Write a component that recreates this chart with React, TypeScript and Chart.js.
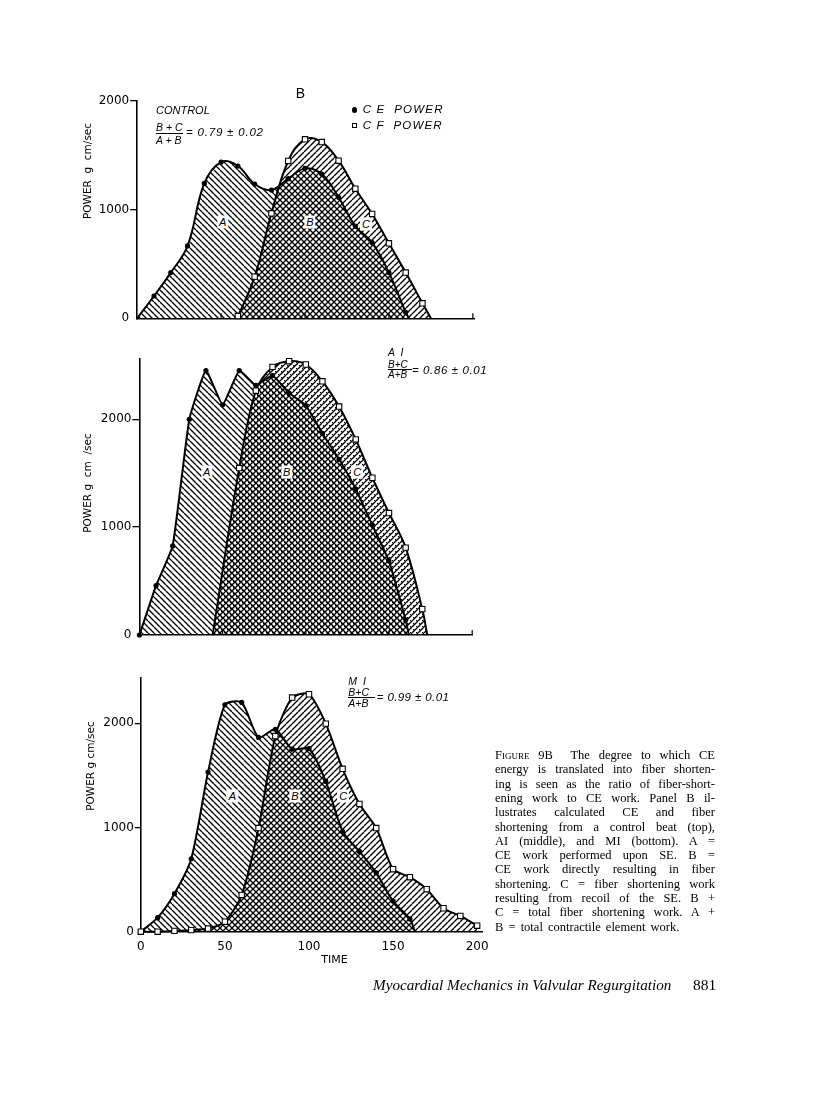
import React, { useEffect, useRef } from "react";
import { Chart, registerables } from "chart.js";
Chart.register(...registerables);

const SANS = '"DejaVu Sans", sans-serif';
const ISANS = '"Liberation Sans", Arial, sans-serif';
const SERIF = '"Liberation Serif", "Times New Roman", serif';

// ---------------- data (time in msec, power in g cm/sec) ----------------
// Control
const TOP_CE_TIME = [0, 10, 20, 30, 40, 50, 60, 70, 80, 90, 100, 110, 120, 130, 140, 150, 160, 162];
const TOP_CE_POWER = [0, 205, 420, 665, 1240, 1436, 1400, 1234, 1179, 1283, 1378, 1326, 1112, 848, 695, 420, 55, 0];
const TOP_CE_UNMARKED = [0, 162];
const TOP_CF_TIME = [58, 60, 70, 80, 90, 100, 110, 120, 130, 140, 150, 160, 170, 175];
const TOP_CF_POWER = [0, 21, 383, 965, 1446, 1645, 1620, 1449, 1191, 959, 689, 420, 138, 0];
const TOP_CF_UNMARKED = [58, 175];

// AI
const MID_CE_TIME = [0, 10, 20, 30, 40, 50, 60, 70, 80, 90, 100, 110, 120, 130, 140, 150, 160, 162];
const MID_CE_POWER = [0, 458, 826, 2000, 2452, 2134, 2452, 2315, 2405, 2243, 2128, 1869, 1629, 1355, 1019, 685, 140, 0];
const MID_CE_UNMARKED = [162];
const MID_CF_TIME = [44, 60, 70, 80, 90, 100, 110, 120, 130, 140, 150, 160, 170, 173];
const MID_CF_POWER = [0, 1548, 2265, 2486, 2539, 2508, 2352, 2118, 1813, 1458, 1131, 810, 240, 0];
const MID_CF_UNMARKED = [44, 173];

// MI
const BOT_CE_TIME = [0, 10, 20, 30, 40, 50, 60, 70, 80, 90, 100, 110, 120, 130, 140, 150, 160, 163];
const BOT_CE_POWER = [0, 135, 365, 700, 1532, 2177, 2200, 1865, 1942, 1752, 1758, 1442, 963, 770, 565, 294, 123, 0];
const BOT_CE_UNMARKED = [163];
const BOT_CF_TIME = [0, 10, 20, 30, 40, 50, 60, 70, 80, 90, 100, 110, 120, 130, 140, 150, 160, 170, 180, 190, 200];
const BOT_CF_POWER = [0, 0, 8, 15, 30, 96, 353, 995, 1878, 2247, 2279, 1997, 1563, 1226, 995, 600, 523, 408, 225, 151, 58];
const BOT_CF_UNMARKED: number[] = [];

const X_TICKS = [0, 50, 100, 150, 200];
const Y_TICKS = [0, 1000, 2000];

type Series = { t: number[]; p: number[]; unmarked: number[]; tension: number; pattern: string; kind: "ce" | "cf" };
type Panel = {
  L: number; R: number; T: number; B: number;
  xMax: number; yMax: number;
  series: Series[];
  xLabels: boolean; innerTicks: boolean; yTickLen: number;
};

const TOP_PANEL: Panel = {
  L: 137.2, R: 474.5, T: 100.7, B: 318.3, xMax: 201, yMax: 2000,
  xLabels: false, innerTicks: true, yTickLen: 7,
  series: [
    { t: TOP_CE_TIME, p: TOP_CE_POWER, unmarked: TOP_CE_UNMARKED, tension: 0.4, pattern: "back", kind: "ce" },
    { t: TOP_CF_TIME, p: TOP_CF_POWER, unmarked: TOP_CF_UNMARKED, tension: 0.4, pattern: "fwd", kind: "cf" },
  ],
};
const MID_PANEL: Panel = {
  L: 139.4, R: 472.2, T: 359, B: 635, xMax: 200, yMax: 2559,
  xLabels: false, innerTicks: true, yTickLen: 7,
  series: [
    { t: MID_CE_TIME, p: MID_CE_POWER, unmarked: MID_CE_UNMARKED, tension: 0.12, pattern: "back", kind: "ce" },
    { t: MID_CF_TIME, p: MID_CF_POWER, unmarked: MID_CF_UNMARKED, tension: 0.35, pattern: "fwd dots", kind: "cf" },
  ],
};
const BOT_PANEL: Panel = {
  L: 140.8, R: 482.2, T: 678.3, B: 931.7, xMax: 203, yMax: 2432,
  xLabels: true, innerTicks: false, yTickLen: 6,
  series: [
    { t: BOT_CE_TIME, p: BOT_CE_POWER, unmarked: BOT_CE_UNMARKED, tension: 0.25, pattern: "back", kind: "ce" },
    { t: BOT_CF_TIME, p: BOT_CF_POWER, unmarked: BOT_CF_UNMARKED, tension: 0.25, pattern: "fwd", kind: "cf" },
  ],
};

function makePattern(ctx: CanvasRenderingContext2D, kind: string): CanvasPattern | string {
  const s = 6;
  const c = document.createElement("canvas");
  c.width = s;
  c.height = s;
  const g = c.getContext("2d")!;
  g.strokeStyle = "#000";
  g.lineWidth = 1.35;
  if (kind.includes("back")) {
    g.beginPath();
    for (const k of [-1, 0, 1]) {
      g.moveTo(k * s, 0);
      g.lineTo(k * s + s, s);
    }
    g.stroke();
  }
  if (kind.includes("fwd")) {
    g.beginPath();
    for (const k of [-1, 0, 1]) {
      g.moveTo(k * s, s);
      g.lineTo(k * s + s, 0);
    }
    g.stroke();
  }
  if (kind.includes("dots")) {
    g.fillStyle = "#000";
    g.fillRect(1, 2, 1.4, 1.4);
    g.fillRect(4, 5, 1.4, 1.4);
  }
  return ctx.createPattern(c, "repeat") || "rgba(0,0,0,0)";
}

const innerTicksPlugin = {
  id: "innerTicks",
  afterDraw(chart: any, _a: any, opts: any) {
    if (!opts || !opts.show) return;
    const { ctx, chartArea, scales } = chart;
    ctx.save();
    ctx.strokeStyle = "#000";
    ctx.lineWidth = 1.2;
    for (const v of X_TICKS) {
      if (v === 0) continue;
      const px = scales.x.getPixelForValue(v);
      ctx.beginPath();
      ctx.moveTo(px, chartArea.bottom);
      ctx.lineTo(px, chartArea.bottom - 5);
      ctx.stroke();
    }
    ctx.restore();
  },
};

function PanelChart({ panel }: { panel: Panel }) {
  const ref = useRef<HTMLCanvasElement>(null);
  const CL = 40;
  const CW = 460;
  const CT = Math.floor(panel.T) - 20;
  const xH = panel.xLabels ? 30 : 2;
  const CH = Math.ceil(panel.B) + (panel.xLabels ? 42 : 14) - CT;
  const yW = panel.L - CL;
  const padTop = panel.T - CT;
  const padRight = CL + CW - panel.R;
  const padBottom = CT + CH - panel.B - xH;

  useEffect(() => {
    const canvas = ref.current!;
    const ctx = canvas.getContext("2d")!;
    const datasets = panel.series.map((s) => ({
      data: s.t.map((x, i) => ({ x, y: s.p[i] })),
      borderColor: "#000",
      borderWidth: 2,
      backgroundColor: makePattern(ctx, s.pattern),
      fill: "origin",
      tension: s.tension,
      clip: 6,
      pointStyle: s.kind === "ce" ? "circle" : "rect",
      pointRadius: s.t.map((x) => (s.unmarked.includes(x) ? 0 : s.kind === "ce" ? 2.6 : 3.8)),
      pointBackgroundColor: s.kind === "ce" ? "#000" : "#fff",
      pointBorderColor: "#000",
      pointBorderWidth: s.kind === "ce" ? 0 : 1.1,
      order: s.kind === "ce" ? 1 : 0,
    }));
    const chart = new Chart(canvas, {
      type: "line",
      data: { datasets } as any,
      plugins: [innerTicksPlugin as any],
      options: {
        responsive: false,
        animation: false,
        devicePixelRatio: 1,
        layout: { padding: { left: 0, top: padTop, right: padRight, bottom: padBottom } },
        plugins: {
          legend: { display: false },
          tooltip: { enabled: false },
          filler: { drawTime: "beforeDatasetsDraw" },
          innerTicks: { show: panel.innerTicks },
        } as any,
        scales: {
          x: {
            type: "linear",
            min: 0,
            max: panel.xMax,
            grid: { display: false, drawTicks: false },
            border: { display: true, color: "#000", width: 1.6 },
            ticks: {
              display: panel.xLabels,
              font: { family: SANS, size: 12 },
              color: "#000",
              padding: 8,
              maxRotation: 0,
              autoSkip: false,
              callback: (v: any) => String(v),
            },
            afterBuildTicks: (s: any) => {
              s.ticks = X_TICKS.map((v) => ({ value: v }));
            },
            afterFit: (s: any) => {
              s.height = xH;
            },
          },
          y: {
            type: "linear",
            min: 0,
            max: panel.yMax,
            grid: {
              display: true,
              drawOnChartArea: false,
              drawTicks: true,
              tickLength: panel.yTickLen,
              color: (c: any) => (c.tick && c.tick.value === 0 ? "rgba(0,0,0,0)" : "#000"),
              lineWidth: 1.3,
            },
            border: { display: true, color: "#000", width: 1.6 },
            ticks: {
              font: { family: SANS, size: 12 },
              color: "#000",
              padding: 1,
              callback: (v: any) => String(v),
            },
            afterBuildTicks: (s: any) => {
              s.ticks = Y_TICKS.map((v) => ({ value: v }));
            },
            afterFit: (s: any) => {
              s.width = yW;
            },
          },
        },
      } as any,
    });
    return () => chart.destroy();
  }, []);

  return (
    <canvas
      ref={ref}
      width={CW}
      height={CH}
      style={{ position: "absolute", left: CL, top: CT, width: CW, height: CH }}
    />
  );
}

type TxProps = {
  x: number; y: number; s: number; f?: string; it?: boolean; w?: number;
  a?: "l" | "c" | "r"; ls?: number; bg?: boolean; rot?: boolean; children: React.ReactNode;
};
function Tx({ x, y, s, f = ISANS, it = false, w = 400, a = "l", ls = 0, bg = false, rot = false, children }: TxProps) {
  const tx = a === "c" ? "-50%" : a === "r" ? "-100%" : "0";
  return (
    <div
      style={{
        position: "absolute",
        left: x,
        top: y,
        transform: rot ? "translate(-50%, -50%) rotate(-90deg)" : `translate(${tx}, -50%)`,
        fontFamily: f,
        fontSize: s,
        fontStyle: it ? "italic" : "normal",
        fontWeight: w,
        letterSpacing: ls,
        lineHeight: 1,
        whiteSpace: "pre",
        color: "#000",
        background: bg ? "#fff" : undefined,
        padding: bg ? "1px 2px" : undefined,
      }}
    >
      {children}
    </div>
  );
}

function Bar({ x, y, w }: { x: number; y: number; w: number }) {
  return <div style={{ position: "absolute", left: x, top: y - 0.6, width: w, height: 1.2, background: "#000" }} />;
}

const CAPTION_LINES = [
  "energy is translated into fiber shorten-",
  "ing is seen as the ratio of fiber-short-",
  "ening work to CE work. Panel B il-",
  "lustrates calculated CE and fiber",
  "shortening from a control beat (top),",
  "AI (middle), and MI (bottom). A =",
  "CE work performed upon SE. B =",
  "CE work directly resulting in fiber",
  "shortening. C = fiber shortening work",
  "resulting from recoil of the SE. B +",
  "C = total fiber shortening work. A +",
  "B = total contractile element work.",
];

function Caption() {
  const left = 495;
  const width = 220;
  const y0 = 755;
  const dy = 14.3;
  const lineStyle = (i: number, last: boolean): React.CSSProperties => ({
    position: "absolute",
    left,
    top: y0 + dy * i - 8,
    width,
    height: 16,
    lineHeight: "16px",
    fontFamily: SERIF,
    fontSize: 12.5,
    color: "#000",
    textAlign: last ? "left" : "justify",
    textAlignLast: last ? "left" : "justify",
    wordSpacing: last ? 2 : 0,
  });
  return (
    <>
      <div style={lineStyle(0, false)}>
        <span style={{ fontVariant: "small-caps" }}>Figure</span> 9B&nbsp; The degree to which CE
      </div>
      {CAPTION_LINES.map((l, i) => (
        <div key={i} style={lineStyle(i + 1, i === CAPTION_LINES.length - 1)}>
          {l}
        </div>
      ))}
    </>
  );
}

export default function App() {
  return (
    <div style={{ position: "absolute", left: 0, top: 0, width: 816, height: 1100, background: "#fff", overflow: "hidden" }}>
      <PanelChart panel={TOP_PANEL} />
      <PanelChart panel={MID_PANEL} />
      <PanelChart panel={BOT_PANEL} />

      {/* panel letter & legend */}
      <Tx x={300.5} y={93} s={14} a="c">B</Tx>
      <div style={{ position: "absolute", left: 354.3 - 2.8, top: 110 - 2.8, width: 5.6, height: 5.6, borderRadius: "50%", background: "#000" }} />
      <Tx x={362.7} y={110} s={11.5} it ls={1.2}>{"C E  POWER"}</Tx>
      <div style={{ position: "absolute", left: 354.3 - 2.8, top: 125.7 - 2.8, width: 5.6, height: 5.6, boxSizing: "border-box", border: "1.2px solid #000", background: "#fff" }} />
      <Tx x={362.7} y={125.7} s={11.5} it ls={1.2}>{"C F  POWER"}</Tx>

      {/* y axis titles */}
      <Tx x={86.7} y={171} s={10.5} f={SANS} rot>{"POWER  g  cm/sec"}</Tx>
      <Tx x={87} y={483} s={10.5} f={SANS} rot>{"POWER g  cm  /sec"}</Tx>
      <Tx x={90} y={766} s={10.5} f={SANS} rot>{"POWER g cm/sec"}</Tx>
      <Tx x={334.5} y={959} s={11} f={SANS} a="c">TIME</Tx>

      {/* top annotation */}
      <Tx x={156} y={109.7} s={11} it>CONTROL</Tx>
      <Tx x={156} y={126.7} s={10.5} it>{"B + C"}</Tx>
      <Bar x={156} y={133.3} w={27} />
      <Tx x={156} y={140} s={10.5} it>{"A + B"}</Tx>
      <Tx x={186} y={133} s={11.5} it ls={0.8}>{"= 0.79 ± 0.02"}</Tx>

      {/* middle annotation */}
      <Tx x={388} y={351.5} s={10.5} it>{"A  I"}</Tx>
      <Tx x={388} y={364.8} s={10} it>{"B+C"}</Tx>
      <Bar x={388} y={369.5} w={23.5} />
      <Tx x={388} y={374.5} s={10} it>{"A+B"}</Tx>
      <Tx x={412} y={371} s={11.5} it ls={0.6}>{"= 0.86 ± 0.01"}</Tx>

      {/* bottom annotation */}
      <Tx x={348.3} y={681} s={10.5} it>{"M  I"}</Tx>
      <Tx x={348.3} y={692} s={10.5} it>{"B+C"}</Tx>
      <Bar x={348.3} y={697.3} w={26.5} />
      <Tx x={348.3} y={703} s={10.5} it>{"A+B"}</Tx>
      <Tx x={376.7} y={698.3} s={11.5} it ls={0.4}>{"= 0.99 ± 0.01"}</Tx>

      {/* region labels */}
      <Tx x={222.7} y={221.7} s={11} it a="c" bg>A</Tx>
      <Tx x={310} y={221.7} s={11} it a="c" bg>B</Tx>
      <Tx x={366} y={224} s={11} it a="c" bg>C</Tx>
      <Tx x={206.7} y={471.7} s={11} it a="c" bg>A</Tx>
      <Tx x={286.7} y={471.7} s={11} it a="c" bg>B</Tx>
      <Tx x={357.3} y={471.7} s={11} it a="c" bg>C</Tx>
      <Tx x={232.3} y={796} s={11} it a="c" bg>A</Tx>
      <Tx x={295} y={796} s={11} it a="c" bg>B</Tx>
      <Tx x={343.3} y={796} s={11} it a="c" bg>C</Tx>

      <Caption />

      <Tx x={373} y={985} s={15.2} f={SERIF} it>Myocardial Mechanics in Valvular Regurgitation</Tx>
      <Tx x={693} y={985} s={15.5} f={SERIF}>881</Tx>
    </div>
  );
}
